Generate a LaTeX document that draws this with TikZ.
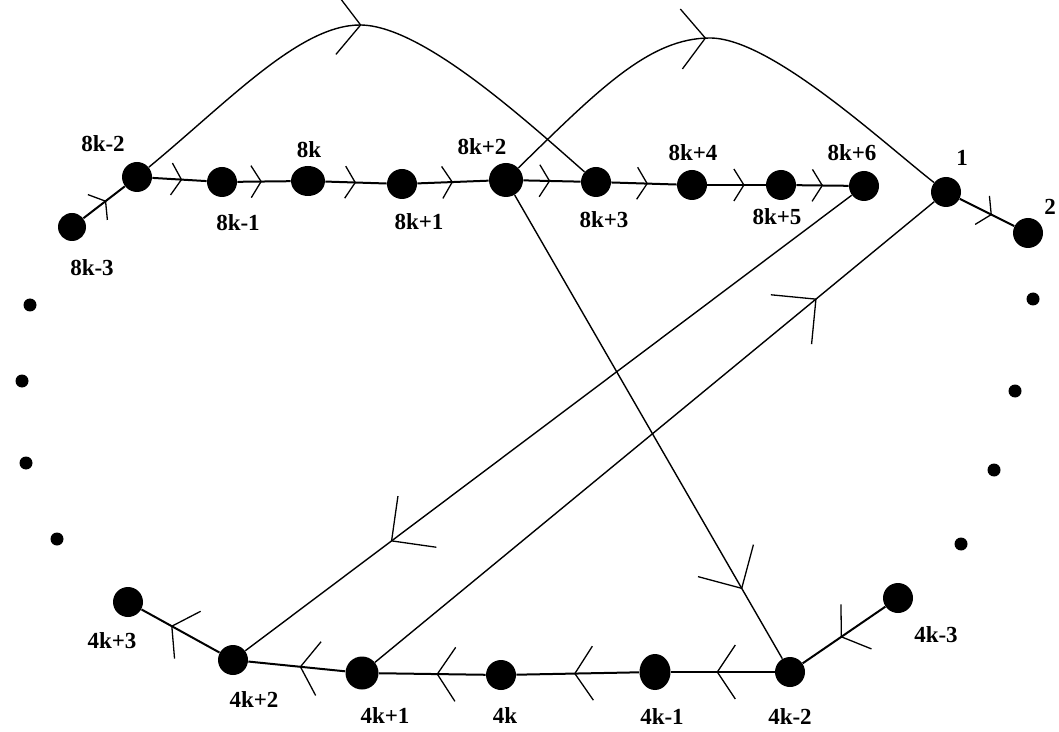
\documentclass[tikz,border=0pt]{standalone}
\usepackage{fontspec}
\setmainfont{Liberation Serif}
\usetikzlibrary{arrows.meta,decorations.markings,shapes.geometric}

\tikzset{
	vtx/.style={circle, fill=black, inner sep=0pt, minimum size=15pt},
	gapdot/.style={circle, fill=black, inner sep=0pt, minimum size=6.5pt},
	lbl/.style={font=\fontsize{11.5}{13}\selectfont\bfseries, inner sep=0pt},
	chain/.style={line width=1pt},
	thin/.style={line width=0.7pt},
	chainbarb/.tip={Straight Barb[length=5pt, width=16pt, line width=0.65pt]},
	lowbarb/.tip={Straight Barb[length=9pt, width=27pt, line width=0.65pt]},
	arcbarb/.tip={Straight Barb[length=12pt, width=30pt, line width=0.65pt]},
	longbarb/.tip={Straight Barb[length=16pt, width=32pt, line width=0.65pt]},
	midarrow/.style 2 args={postaction={decorate},
		decoration={markings, mark=at position #1 with {\arrow{#2}}}},
}

\begin{document}
\begin{tikzpicture}[x=0.5pt, y=-0.5pt]
			%%%%% START %%%%%
			\useasboundingbox (0,0) rectangle (1059,732);
			
			% top row
			\node[vtx, minimum size=14pt] (a8km3) at (72,227) {};
			\node[vtx] (a8km2) at (137,177) {};
			\node[vtx] (a8km1) at (222,182) {};
			\node[vtx, ellipse, minimum width=17pt, minimum height=15pt] (a8k) at (308,181) {};
			\node[vtx] (a8kp1) at (402,184) {};
			\node[vtx, minimum size=17pt] (a8kp2) at (506,180) {};
			\node[vtx] (a8kp3) at (596,182) {};
			\node[vtx] (a8kp4) at (692,185) {};
			\node[vtx] (a8kp5) at (781,185) {};
			\node[vtx] (a8kp6) at (864,186) {};
			\node[vtx] (v1) at (946,192) {};
			\node[vtx] (v2) at (1028,233) {};
			
			% bottom row
			\node[vtx] (b4kp3) at (128,602) {};
			\node[vtx] (b4kp2) at (233,660) {};
			\node[vtx, minimum size=16.5pt] (b4kp1) at (362,673) {};
			\node[vtx] (b4k) at (501,675) {};
			\node[vtx, ellipse, minimum width=15.5pt, minimum height=18pt] (b4km1) at (655,672) {};
			\node[vtx] (b4km2) at (790,672) {};
			\node[vtx] (b4km3) at (898,598) {};
			
			% dots on both sides
			\foreach \x/\y [count=\i] in {30/305, 22/381, 26/463, 57/539}
				\node[gapdot] (l\i) at (\x,\y) {};
			\foreach \x/\y [count=\i] in {1033/299, 1015/391, 994/470, 961/544}
				\node[gapdot] (r\i) at (\x,\y) {};
			
			% labels
			\node[lbl] (t8km3) at (92,268) {8k-3};
			\node[lbl] (t8km2) at (103,144) {8k-2};
			\node[lbl] (t8km1) at (238,223) {8k-1};
			\node[lbl] (t8k) at (309,150) {8k};
			\node[lbl] (t8kp1) at (419,222) {8k+1};
			\node[lbl] (t8kp2) at (482,147) {8k+2};
			\node[lbl] (t8kp3) at (604,220) {8k+3};
			\node[lbl] (t8kp4) at (693,153) {8k+4};
			\node[lbl] (t8kp5) at (777,217) {8k+5};
			\node[lbl] (t8kp6) at (852,153) {8k+6};
			\node[lbl] (t1) at (962,158) {1};
			\node[lbl] (t2) at (1050,207) {2};
			\node[lbl] (t4kp3) at (112,641) {4k+3};
			\node[lbl] (t4kp2) at (254,700) {4k+2};
			\node[lbl] (t4kp1) at (385,716) {4k+1};
			\node[lbl] (t4k) at (505,716) {4k};
			\node[lbl] (t4km1) at (662,717) {4k-1};
			\node[lbl] (t4km2) at (790,717) {4k-2};
			\node[lbl] (t4km3) at (936,635) {4k-3};
			
			% upper path, left to right
			\foreach \s/\t/\p in {a8km3/a8km2/0.55, a8km2/a8km1/0.55, a8km1/a8k/0.46,
				a8k/a8kp1/0.5, a8kp1/a8kp2/0.5, a8kp2/a8kp3/0.47, a8kp3/a8kp4/0.56,
				a8kp4/a8kp5/0.64, a8kp5/a8kp6/0.51, v1/v2/0.59}
				\draw[chain, midarrow={\p}{chainbarb}] (\s) -- (\t);
			
			% lower path, right to left
			\foreach \s/\t/\p in {b4km3/b4km2/0.54, b4km2/b4km1/0.56, b4km1/b4k/0.53,
				b4k/b4kp1/0.46, b4kp1/b4kp2/0.47, b4kp2/b4kp3/0.62}
				\draw[chain, midarrow={\p}{lowbarb}] (\s) -- (\t);
			
			% the two humps
			\coordinate (pk1) at (360,25);
			\coordinate (pk2) at (710,38);
			\draw[thin, midarrow={0.49}{arcbarb}] (a8km2) .. controls (230,100) and (300,25) .. (pk1)
				.. controls (420,25) and (520,115) .. (a8kp3);
			\draw[thin, midarrow={0.46}{arcbarb}] (a8kp2) .. controls (600,88) and (650,38) .. (pk2)
				.. controls (770,38) and (880,140) .. (v1);
			
			% long crossing lines
			\draw[thin, midarrow={0.76}{longbarb}] (a8kp6) -- (b4kp2);
			\draw[thin, midarrow={0.79}{longbarb}] (b4kp1) -- (v1);
			\draw[thin, midarrow={0.85}{longbarb}] (a8kp2) -- (b4km2);
			
			%%%%% END %%%%%
		\end{tikzpicture}
\end{document}
